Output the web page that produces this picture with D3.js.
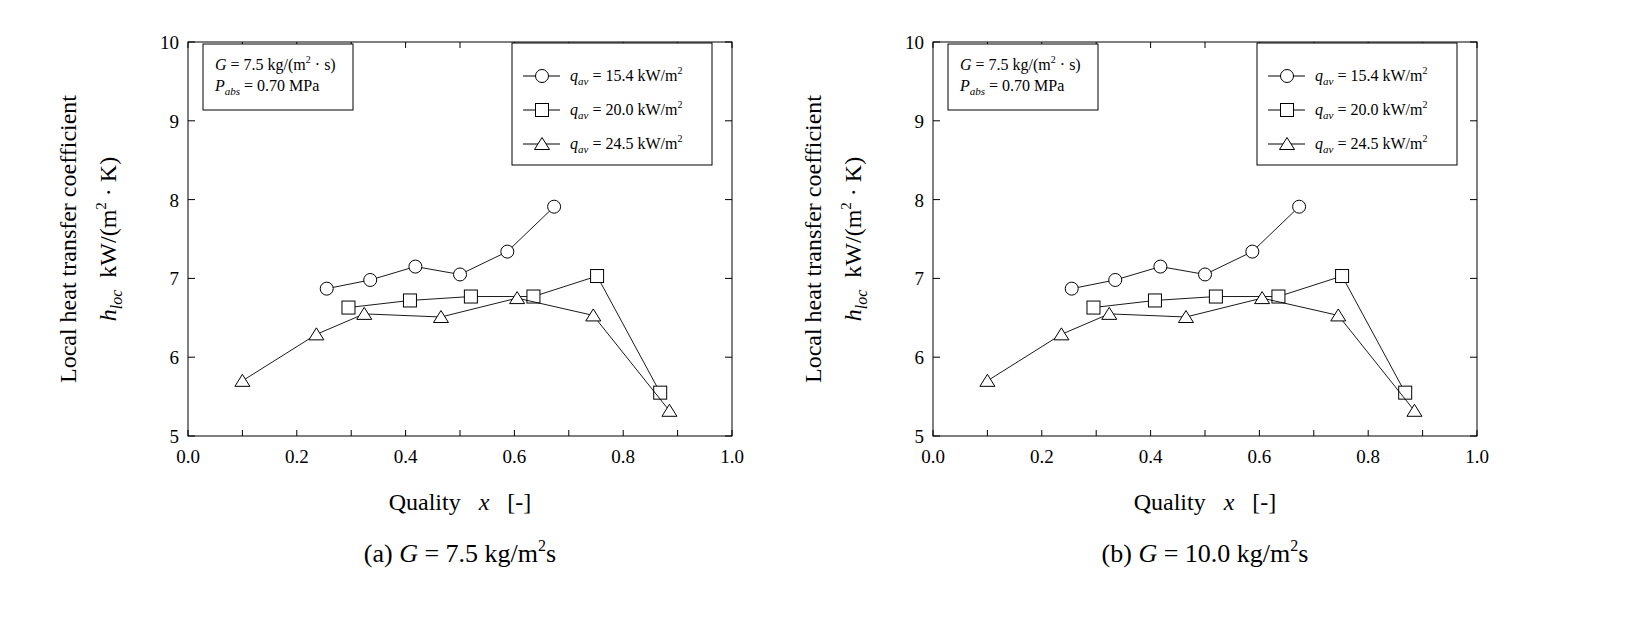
<!DOCTYPE html>
<html><head><meta charset="utf-8">
<script src="https://cdn.jsdelivr.net/npm/d3@7"></script>
<style>
body{margin:0;background:#fff;}
text{font-family:"Liberation Serif","Times New Roman",serif;fill:#000;}
</style></head><body>
<svg id="chart" width="1626" height="621"></svg>
<script>
var xTicks = [0.0, 0.2, 0.4, 0.6, 0.8, 1.0];
var yTicks = [5, 6, 7, 8, 9, 10];

var q154X = [0.255, 0.335, 0.418, 0.500, 0.587, 0.673];
var q154Y = [6.87, 6.98, 7.15, 7.05, 7.34, 7.91];
var q200X = [0.295, 0.408, 0.520, 0.635, 0.752, 0.868];
var q200Y = [6.63, 6.72, 6.77, 6.77, 7.03, 5.55];
var q245X = [0.100, 0.236, 0.324, 0.465, 0.605, 0.745, 0.885];
var q245Y = [5.70, 6.29, 6.55, 6.51, 6.75, 6.53, 5.32];

var seriesLabels = ["15.4", "20.0", "24.5"];
var captions = [["(a) ", "7.5"], ["(b) ", "10.0"]];

var svg = d3.select("#chart");

function drawPanel(left, caption) {
    var w = 544, top = 42, h = 394;
    var g = svg.append("g");
    var x = d3.scaleLinear().domain([0, 1]).range([left, left + w]);
    var y = d3.scaleLinear().domain([5, 10]).range([top + h, top]);

    g.append("rect").attr("x", left).attr("y", top).attr("width", w).attr("height", h)
        .attr("fill", "none").attr("stroke", "#000").attr("stroke-width", 1);

    // ticks, inward, on all sides
    d3.range(0, 1.001, 0.1).forEach(function (t) {
        var len = 6;
        g.append("line").attr("x1", x(t)).attr("x2", x(t)).attr("y1", top + h).attr("y2", top + h - len).attr("stroke", "#000");
        g.append("line").attr("x1", x(t)).attr("x2", x(t)).attr("y1", top).attr("y2", top + len).attr("stroke", "#000");
    });
    yTicks.forEach(function (t) {
        g.append("line").attr("x1", left).attr("x2", left + 7).attr("y1", y(t)).attr("y2", y(t)).attr("stroke", "#000");
        g.append("line").attr("x1", left + w).attr("x2", left + w - 7).attr("y1", y(t)).attr("y2", y(t)).attr("stroke", "#000");
        g.append("text").attr("x", left - 9).attr("y", y(t) + 7).attr("text-anchor", "end")
            .attr("font-size", 19).text(t);
    });
    xTicks.forEach(function (t) {
        g.append("text").attr("x", x(t)).attr("y", top + h + 27).attr("text-anchor", "middle")
            .attr("font-size", 19).text(t.toFixed(1));
    });

    // axis titles
    var xt = g.append("text").attr("x", x(0.5)).attr("y", 510).attr("text-anchor", "middle").attr("font-size", 24)
        .attr("xml:space", "preserve");
    xt.append("tspan").text("Quality   ");
    xt.append("tspan").attr("font-style", "italic").text("x");
    xt.append("tspan").text("   [-]");

    var yl = g.append("g").attr("transform", "translate(" + (left - 112) + "," + (top + h / 2) + ") rotate(-90)");
    yl.append("text").attr("text-anchor", "middle").attr("font-size", 24).text("Local heat transfer coefficient");
    var y2 = yl.append("text").attr("y", 40).attr("text-anchor", "middle").attr("font-size", 24).attr("xml:space", "preserve");
    y2.append("tspan").attr("font-style", "italic").text("h");
    y2.append("tspan").attr("font-style", "italic").attr("font-size", 16).attr("dy", 6).text("loc");
    y2.append("tspan").attr("dy", -6).text("  kW/(m");
    y2.append("tspan").attr("font-size", 15).attr("dy", -10).text("2");
    y2.append("tspan").attr("dy", 10).text(" \u00b7 K)");

    // series
    var series = [[q154X, q154Y, "circle"], [q200X, q200Y, "square"], [q245X, q245Y, "triangle"]];
    var line = d3.line().x(function (d) { return x(d[0]); }).y(function (d) { return y(d[1]); });
    series.forEach(function (s) {
        var pts = d3.zip(s[0], s[1]);
        g.append("path").attr("d", line(pts)).attr("fill", "none").attr("stroke", "#000").attr("stroke-width", 0.9);
        pts.forEach(function (p) { marker(g, s[2], x(p[0]), y(p[1])); });
    });

    // info box
    g.append("rect").attr("x", left + 15).attr("y", top + 2).attr("width", 150).attr("height", 66)
        .attr("fill", "#fff").attr("stroke", "#000");
    var t1 = g.append("text").attr("x", left + 27).attr("y", top + 28).attr("font-size", 16);
    t1.append("tspan").attr("font-style", "italic").text("G");
    t1.append("tspan").text(" = 7.5 kg/(m");
    t1.append("tspan").attr("font-size", 10).attr("dy", -7).text("2");
    t1.append("tspan").attr("dy", 7).text(" \u00b7 s)");
    var t2 = g.append("text").attr("x", left + 27).attr("y", top + 49).attr("font-size", 16);
    t2.append("tspan").attr("font-style", "italic").text("P");
    t2.append("tspan").attr("font-style", "italic").attr("font-size", 11).attr("dy", 4).text("abs");
    t2.append("tspan").attr("dy", -4).text(" = 0.70 MPa");

    // legend
    var lx = left + 324;
    g.append("rect").attr("x", lx).attr("y", top + 1).attr("width", 200).attr("height", 122)
        .attr("fill", "#fff").attr("stroke", "#000");
    ["circle", "square", "triangle"].forEach(function (m, i) {
        var ly = top + 34 + i * 34;
        g.append("line").attr("x1", lx + 11).attr("x2", lx + 48).attr("y1", ly).attr("y2", ly).attr("stroke", "#000");
        marker(g, m, lx + 30, ly);
        var lt = g.append("text").attr("x", lx + 58).attr("y", ly + 5).attr("font-size", 16);
        lt.append("tspan").attr("font-style", "italic").text("q");
        lt.append("tspan").attr("font-style", "italic").attr("font-size", 11).attr("dy", 4).text("av");
        lt.append("tspan").attr("dy", -4).text(" = " + seriesLabels[i] + " kW/m");
        lt.append("tspan").attr("font-size", 10).attr("dy", -7).text("2");
    });

    // caption
    var c = g.append("text").attr("x", x(0.5)).attr("y", 562).attr("text-anchor", "middle").attr("font-size", 26);
    c.append("tspan").text(caption[0]);
    c.append("tspan").attr("font-style", "italic").text("G");
    c.append("tspan").text(" = " + caption[1] + " kg/m");
    c.append("tspan").attr("font-size", 16).attr("dy", -11).text("2");
    c.append("tspan").attr("dy", 11).text("s");
}

function marker(g, type, cx, cy) {
    if (type === "circle") {
        g.append("circle").attr("cx", cx).attr("cy", cy).attr("r", 6.5)
            .attr("fill", "#fff").attr("stroke", "#000");
    } else if (type === "square") {
        g.append("rect").attr("x", cx - 6.5).attr("y", cy - 6.5).attr("width", 13).attr("height", 13)
            .attr("fill", "#fff").attr("stroke", "#000");
    } else {
        g.append("path").attr("d", "M" + cx + "," + (cy - 6.5) + "L" + (cx + 7.5) + "," + (cy + 5.5) + "L" + (cx - 7.5) + "," + (cy + 5.5) + "Z")
            .attr("fill", "#fff").attr("stroke", "#000");
    }
}

drawPanel(188, captions[0]);
drawPanel(933, captions[1]);
</script>
</body></html>
